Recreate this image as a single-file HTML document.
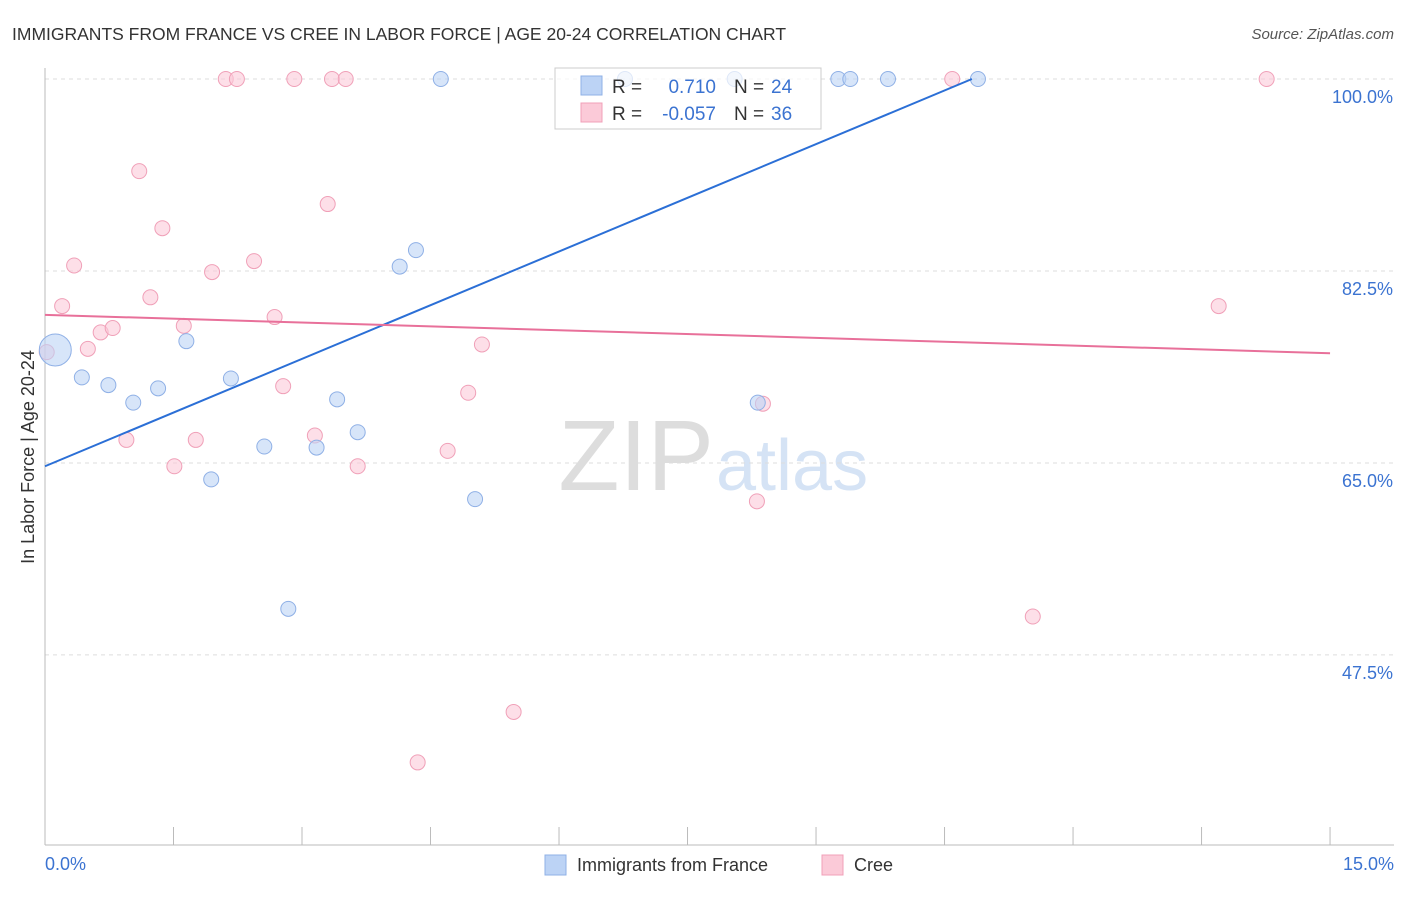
<!DOCTYPE html>
<html><head><meta charset="utf-8"><style>
body{margin:0;background:#fff;font-family:"Liberation Sans",sans-serif;}
svg text{font-family:"Liberation Sans",sans-serif;}
</style></head><body>
<svg id="chart" width="1406" height="892" xmlns="http://www.w3.org/2000/svg">
<text x="12" y="40" font-size="17.5" fill="#333">IMMIGRANTS FROM FRANCE VS CREE IN LABOR FORCE | AGE 20-24 CORRELATION CHART</text>
<text x="1394" y="39" font-size="15" fill="#555" font-style="italic" text-anchor="end">Source: ZipAtlas.com</text>
<text x="714" y="490" font-size="100" fill="#ddd" text-anchor="end" font-family="Liberation Serif">ZIP</text>
<text x="716" y="490" font-size="72" fill="#d5e3f5">atlas</text>
<g id="grid"></g>
<g id="axes"></g>
<g id="pts"></g>
<g id="trend"></g>
<text transform="translate(34,457) rotate(-90)" font-size="18" fill="#333" text-anchor="middle">In Labor Force | Age 20-24</text>
<text x="45" y="870" font-size="18" fill="#3b73d1">0.0%</text>
<text x="1394" y="870" font-size="18" fill="#3b73d1" text-anchor="end">15.0%</text>
<g>
<rect x="555" y="68" width="266" height="61" fill="#fff" fill-opacity="0.7" stroke="#ccc"/>
<rect x="581" y="76" width="21" height="19" fill="#bcd3f5" stroke="#8fb0e6"/>
<rect x="581" y="103" width="21" height="19" fill="#fbcad8" stroke="#f0a0b8"/>
<text x="612" y="93" font-size="19" fill="#333">R = </text>
<text x="716" y="93" font-size="19" fill="#3b73d1" text-anchor="end">0.710</text>
<text x="734" y="93" font-size="19" fill="#333">N = </text>
<text x="771" y="93" font-size="19" fill="#3b73d1">24</text>
<text x="612" y="120" font-size="19" fill="#333">R = </text>
<text x="716" y="120" font-size="19" fill="#3b73d1" text-anchor="end">-0.057</text>
<text x="734" y="120" font-size="19" fill="#333">N = </text>
<text x="771" y="120" font-size="19" fill="#3b73d1">36</text>
</g>
<g>
<rect x="545" y="855" width="21" height="20" fill="#bcd3f5" stroke="#8fb0e6"/>
<text x="577" y="871" font-size="18" fill="#333">Immigrants from France</text>
<rect x="822" y="855" width="21" height="20" fill="#fbcad8" stroke="#f0a0b8"/>
<text x="854" y="871" font-size="18" fill="#333">Cree</text>
</g>
</svg>
<script>
const yTicks=[100,82.5,65,47.5];
const yTickLabels=["100.0%","82.5%","65.0%","47.5%"];
const xTicks=[0,1.5,3,4.5,6,7.5,9,10.5,12,13.5,15];
const franceX=[0.12,0.43,0.74,1.03,1.32,1.65,1.94,2.17,2.56,2.84,3.17,3.41,3.65,4.14,4.33,4.62,5.02,6.77,8.05,8.32,9.26,9.40,9.84,10.89];
const franceY=[75.3,72.8,72.1,70.5,71.8,76.1,63.5,72.7,66.5,51.7,66.4,70.8,67.8,82.9,84.4,100,61.7,100,100,70.5,100,100,100,100];
const creeX=[0.02,0.2,0.34,0.5,0.65,0.79,0.95,1.10,1.23,1.37,1.51,1.62,1.76,1.95,2.11,2.24,2.44,2.68,2.78,2.91,3.15,3.30,3.35,3.51,3.65,4.35,4.70,4.94,5.10,5.47,8.31,8.38,10.59,11.53,13.70,14.26];
const creeY=[75.1,79.3,83.0,75.4,76.9,77.3,67.1,91.6,80.1,86.4,64.7,77.5,67.1,82.4,100,100,83.4,78.3,72.0,100,67.5,88.6,100,100,64.7,37.7,66.1,71.4,75.8,42.3,61.5,70.4,100,51.0,79.3,100];
const franceTrend=[[0,64.7],[10.82,100]];
const creeTrend=[[0,78.5],[15,75.0]];
const sx=v=>45+v*85.67, sy=v=>79+(100-v)*10.97;
const NS="http://www.w3.org/2000/svg";
function mk(t,a,p){const e=document.createElementNS(NS,t);for(const k in a)e.setAttribute(k,a[k]);p.appendChild(e);return e;}
const grid=document.getElementById('grid'),axes=document.getElementById('axes'),pts=document.getElementById('pts'),tr=document.getElementById('trend');
yTicks.forEach((v,i)=>{
 const l=mk('line',{x1:45,x2:1394,y1:sy(v),y2:sy(v),stroke:'#ddd','stroke-dasharray':'4,4'},grid);
 
 
 const t=mk('text',{x:1393,y:sy(v)+24,'font-size':18,fill:'#3b73d1','text-anchor':'end'},grid);
 t.textContent=yTickLabels[i];
 
 
});
const ax=mk('line',{x1:45,x2:45,y1:68,y2:845,stroke:'#bbb'},axes);


const bx=mk('line',{x1:45,x2:1394,y1:845,y2:845,stroke:'#bbb'},axes);


xTicks.forEach(v=>{
 const t=mk('line',{x1:sx(v),x2:sx(v),y1:827,y2:845,stroke:'#bbb'},axes);
 
 
});
creeX.forEach((x,i)=>{
 const c=mk('circle',{cx:sx(x),cy:sy(creeY[i]),r:7.5,fill:'#fbcad8','fill-opacity':0.6,stroke:'#f0a0b8'},pts);
 
 
});
franceX.forEach((x,i)=>{
 const c=mk('circle',{cx:sx(x),cy:sy(franceY[i]),r:i===0?16:7.5,fill:'#bcd3f5','fill-opacity':0.6,stroke:'#8fb0e6'},pts);
 
 
});
const l1=mk('line',{x1:sx(franceTrend[0][0]),y1:sy(franceTrend[0][1]),x2:sx(franceTrend[1][0]),y2:sy(franceTrend[1][1]),stroke:'#2b6fd6','stroke-width':2},tr);


const l2=mk('line',{x1:sx(creeTrend[0][0]),y1:sy(creeTrend[0][1]),x2:sx(creeTrend[1][0]),y2:sy(creeTrend[1][1]),stroke:'#e8709a','stroke-width':2},tr);


</script>
</body></html>
